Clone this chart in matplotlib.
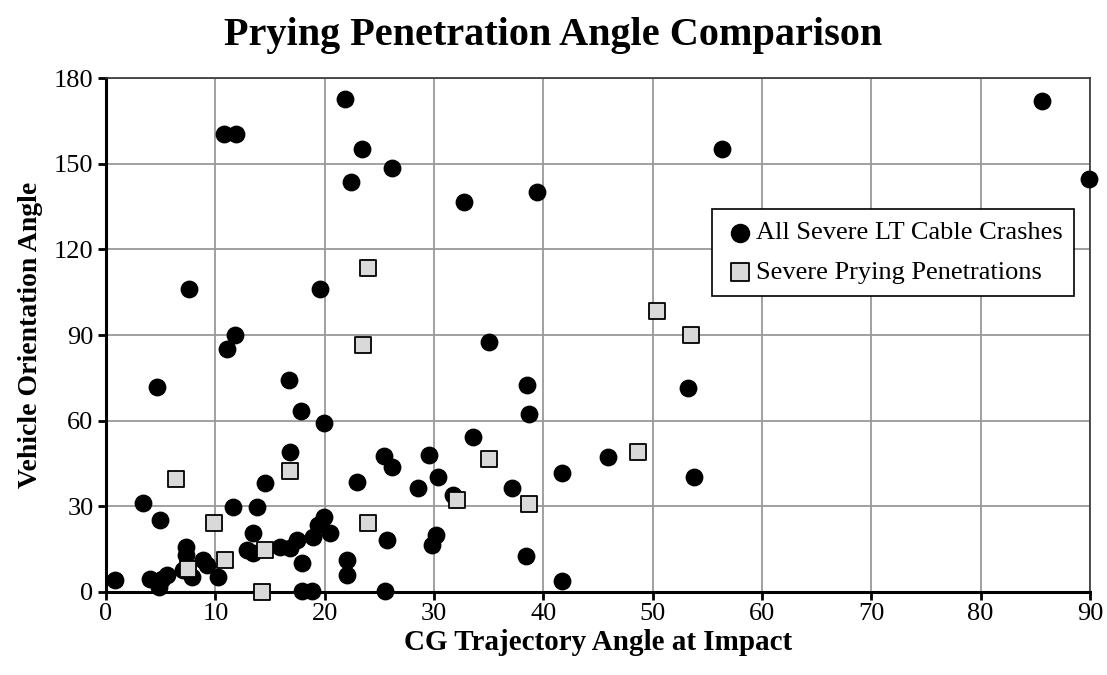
import matplotlib.pyplot as plt
from matplotlib.ticker import MultipleLocator

# All severe LT cable crashes (trajectory angle, orientation angle)
crash_x = [0.8, 3.4, 4.9, 4.0, 4.8, 5.1, 5.6, 7.3, 7.3, 7.0, 7.9, 8.9, 9.2, 10.2,
           11.6, 13.4, 12.9, 13.4, 13.8, 15.9, 16.8, 17.5, 17.9, 18.9, 19.9, 19.4,
           20.5, 17.9, 18.8, 22.0, 22.0, 25.7, 25.5, 4.7, 11.8, 11.1, 16.7, 17.8,
           19.9, 16.8, 14.5, 23.0, 25.4, 26.2, 29.5, 30.4, 28.5, 21.9, 10.8, 11.9,
           23.4, 26.2, 22.4, 7.6, 19.6, 32.7, 39.4, 56.3, 85.6, 89.9, 53.2, 35.0,
           38.5, 38.7, 33.6, 31.7, 37.1, 41.7, 30.2, 29.8, 38.4, 41.7, 45.9, 53.8]
crash_y = [4.2, 31.2, 25.2, 4.5, 1.8, 4.5, 6.0, 15.8, 13.0, 7.7, 5.3, 11.2, 9.5, 5.3,
           29.8, 20.7, 14.7, 13.7, 29.8, 15.8, 15.4, 18.2, 10.2, 19.3, 26.3, 23.5,
           20.7, 0.3, 0.3, 11.2, 6.0, 18.2, 0.3, 71.7, 90.0, 85.0, 74.2, 63.4,
           59.2, 49.0, 38.1, 38.5, 47.6, 43.8, 48.0, 40.3, 36.4, 172.6, 160.3, 160.3,
           155.1, 148.4, 143.5, 106.1, 106.1, 136.7, 140.0, 155.1, 171.9, 144.5, 71.4, 87.5,
           72.5, 62.3, 54.2, 34.0, 36.4, 41.7, 20.0, 16.4, 12.6, 3.9, 47.2, 40.3]

# Severe prying penetrations
pry_x = [7.5, 9.9, 10.9, 14.3, 14.5, 6.4, 16.8, 23.5, 24.0, 24.0, 32.1, 35.0,
         38.7, 48.7, 50.4, 53.5]
pry_y = [8.0, 24.2, 11.2, 0.0, 14.7, 39.6, 42.4, 86.5, 113.4, 24.2, 32.2, 46.6,
         30.8, 49.0, 98.4, 90.0]

plt.rcParams["font.family"] = ["Liberation Serif", "DejaVu Serif"]

fig = plt.figure(figsize=(11.07, 6.75), dpi=100)
ax = fig.add_axes([0.0958, 0.123, 0.8888, 0.7614])

ax.scatter(crash_x, crash_y, s=140, marker="o", color="black", zorder=3,
           clip_on=False, label="All Severe LT Cable Crashes")
ax.scatter(pry_x, pry_y, s=130, marker="s", facecolor="#d9d9d9", edgecolor="black",
           linewidths=1.3, zorder=4, clip_on=False, label="Severe Prying Penetrations")

ax.set_xlim(0, 90)
ax.set_ylim(0, 180)
ax.xaxis.set_major_locator(MultipleLocator(10))
ax.yaxis.set_major_locator(MultipleLocator(30))
ax.grid(True, color="#999999", linewidth=1.3, zorder=0)
ax.set_axisbelow(True)

for side in ["top", "right"]:
    ax.spines[side].set_linewidth(1.2)
    ax.spines[side].set_color("#333333")
for side in ["left", "bottom"]:
    ax.spines[side].set_linewidth(2.2)
    ax.spines[side].set_color("black")

ax.tick_params(axis="both", direction="out", length=6, width=2, labelsize=19, pad=3)
ax.tick_params(axis="x", pad=2)

fig.text(0.5, 1 - 35 / 675, "Prying Penetration Angle Comparison", fontsize=29,
         fontweight="bold", ha="center", va="center")
ax.set_xlabel("CG Trajectory Angle at Impact", fontsize=21, fontweight="bold", labelpad=3)
ax.set_ylabel("Vehicle Orientation Angle", fontsize=20, fontweight="bold", labelpad=8)

leg = ax.legend(loc="upper left", bbox_to_anchor=(0.616, 0.745), fontsize=19,
                frameon=True, fancybox=False, framealpha=1, edgecolor="black",
                handletextpad=0.0, borderpad=0.45, labelspacing=0.6,
                handlelength=1.2, borderaxespad=0, markerscale=1.1)
leg.get_frame().set_linewidth(1.2)

fig.savefig("out.png", dpi=100)
